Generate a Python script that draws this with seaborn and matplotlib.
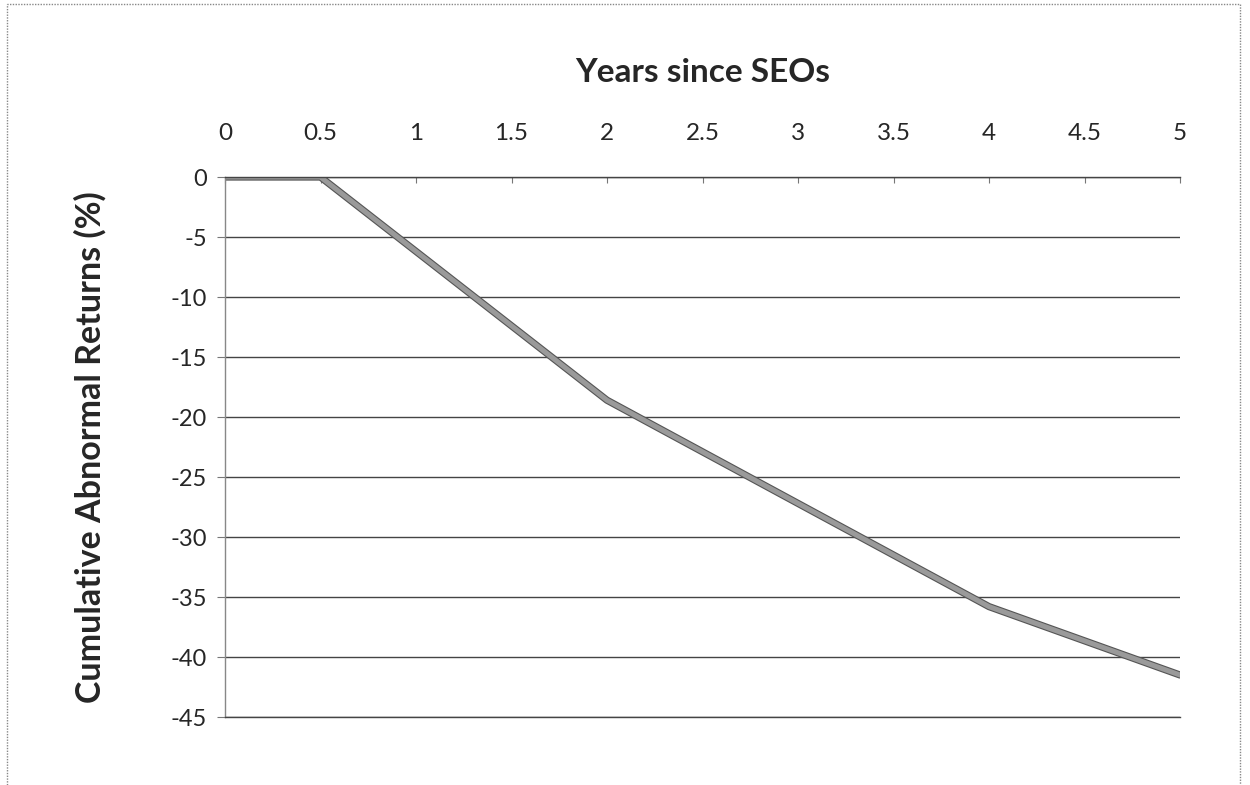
import matplotlib
matplotlib.use("Agg")
import matplotlib.pyplot as plt
import matplotlib.patheffects as pe
from matplotlib.patches import Rectangle
import seaborn as sns
import pandas as pd

# Cumulative abnormal returns after seasoned equity offerings
years = [0, 0.5, 1, 2, 3, 4, 5]
car_pct = [0, 0, -6.2, -18.6, -27.2, -35.8, -41.5]

x_ticks = [0, 0.5, 1, 1.5, 2, 2.5, 3, 3.5, 4, 4.5, 5]
x_tick_labels = ["0", "0.5", "1", "1.5", "2", "2.5", "3", "3.5", "4", "4.5", "5"]
y_ticks = [0, -5, -10, -15, -20, -25, -30, -35, -40, -45]

df = pd.DataFrame({"years": years, "car": car_pct})

sns.set_style("white")
plt.rcParams["font.family"] = ["Lato", "DejaVu Sans"]

fig = plt.figure(figsize=(12.5, 7.85), dpi=100)
ax = fig.add_axes([0.18, 0.0866, 0.764, 0.6879])

sns.lineplot(data=df, x="years", y="car", ax=ax, color="#9a9a9a", linewidth=3.6,
             path_effects=[pe.Stroke(linewidth=5.2, foreground="#555555"), pe.Normal()])

ax.set_xlim(0, 5)
ax.set_ylim(-45, 0)
ax.set_yticks(y_ticks)
ax.set_yticklabels([str(v) for v in y_ticks])
ax.set_xticks(x_ticks)
ax.set_xticklabels(x_tick_labels)

ax.xaxis.tick_top()
ax.xaxis.set_label_position("top")
ax.set_xlabel("Years since SEOs", fontsize=24, fontweight="bold", labelpad=29)
ax.set_ylabel("Cumulative Abnormal Returns (%)", fontsize=24.5, fontweight="bold",
              labelpad=46)

ax.tick_params(axis="x", which="both", top=True, bottom=False, direction="in",
               length=4, width=0.8, color="#777777", labelsize=17.5, pad=24)
ax.tick_params(axis="y", left=True, direction="out", length=6, width=0.8,
               color="#777777", labelsize=17, pad=7)

ax.grid(axis="y", color="#444444", linewidth=1.0)
ax.grid(axis="x", visible=False)
ax.set_axisbelow(True)

ax.spines["right"].set_visible(False)
ax.spines["left"].set_color("#888888")
ax.spines["left"].set_linewidth(1.0)
for side in ["top", "bottom"]:
    ax.spines[side].set_color("#444444")
    ax.spines[side].set_linewidth(1.0)

# thin frame around the chart area
fig.patches.append(Rectangle((7 / 1250, -0.05), 1233 / 1250, 1 - 4 / 785 + 0.05,
                             transform=fig.transFigure, fill=False,
                             edgecolor="#888888", linewidth=1.0, linestyle=(0, (1, 1))))

fig.savefig("out.png", dpi=100)
